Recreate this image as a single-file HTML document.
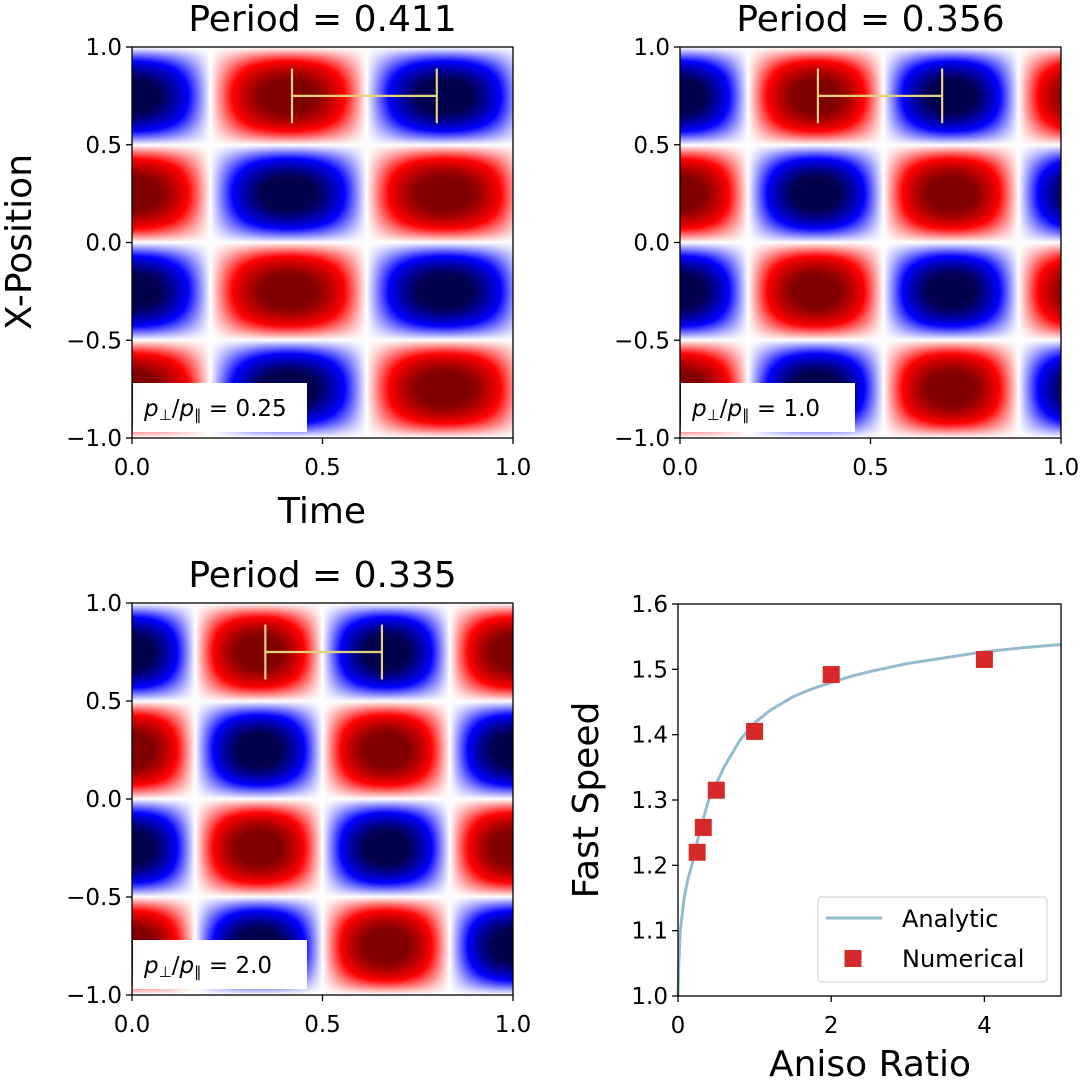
<!DOCTYPE html>
<html><head><meta charset="utf-8">
<style>
body{margin:0;background:#fff;width:1080px;height:1082px;overflow:hidden;position:relative;font-family:"DejaVu Sans","Liberation Sans",sans-serif;}
canvas{position:absolute;}
svg{position:absolute;left:0;top:0;font-family:"DejaVu Sans","Liberation Sans",sans-serif;}
</style></head>
<body>
<canvas id="c0" width="381" height="391" style="left:132px;top:47px"></canvas>
<canvas id="c1" width="381" height="391" style="left:680px;top:47px"></canvas>
<canvas id="c2" width="381" height="392" style="left:132px;top:603px"></canvas>
<svg id="s" width="1080" height="1082"></svg>
<script>
// heatmap panel data
const periods=[0.411,0.356,0.335];
const ratioLabels=['0.25','1.0','2.0'];
const zeroOffsets=[0.205,0.178,0.165];
const barStart=[0.42,0.362,0.35];
const barEnd=[0.80,0.688,0.656];
// scatter/line data
const numX=[0.25,0.33,0.5,1,2,4];
const numY=[1.22,1.258,1.315,1.405,1.492,1.515];
const anaX=[0,0.01,0.03,0.08,0.13,0.18,0.28,0.4,0.5,0.6,0.7,0.8,0.9,1.0,1.2,1.5,1.75,2,2.25,2.56,3,3.5,4,4.5,5];
const anaY=[1.0,1.05,1.1,1.15,1.18,1.2,1.25,1.3,1.325,1.35,1.37,1.39,1.405,1.418,1.437,1.458,1.47,1.48,1.489,1.498,1.509,1.518,1.527,1.533,1.538];
const xTicksH=['0.0','0.5','1.0'];
const yTicksH=['1.0','0.5','0.0','\u22120.5','\u22121.0'];
const xTicksS=[0,2,4];
const yTicksS=['1.0','1.1','1.2','1.3','1.4','1.5','1.6'];

function seismic(v){
  const s=(v+1)/2; let r,g,b;
  const stops=[[0,0,0,0.3],[0.25,0,0,1],[0.5,1,1,1],[0.75,1,0,0],[1,0.5,0,0]];
  for(let i=0;i<4;i++){const a=stops[i],c=stops[i+1];if(s<=c[0]){const f=(s-a[0])/(c[0]-a[0]);r=a[1]+f*(c[1]-a[1]);g=a[2]+f*(c[2]-a[2]);b=a[3]+f*(c[3]-a[3]);break;}}
  return [r*255,g*255,b*255];
}
periods.forEach((P,k)=>{
  const cv=document.getElementById('c'+k),ctx=cv.getContext('2d');
  const W=cv.width,H=cv.height,img=ctx.createImageData(W,H);
  const T=2*P;
  for(let j=0;j<H;j++){const y=1-2*j/(H-1);const sy=Math.sin(2*Math.PI*y);
    for(let i=0;i<W;i++){const t=i/(W-1);
      const ct=Math.cos(2*Math.PI*(t-zeroOffsets[k]+T/4)/T);
      let v=1.15*ct*sy;
      const c=seismic(Math.max(-1,Math.min(1,v)));const o=(j*W+i)*4;
      img.data[o]=c[0];img.data[o+1]=c[1];img.data[o+2]=c[2];img.data[o+3]=255;}}
  ctx.putImageData(img,0,0);
});
const NS='http://www.w3.org/2000/svg',svg=document.getElementById('s');
function el(tag,attrs,txt){const e=document.createElementNS(NS,tag);for(const k in attrs)e.setAttribute(k,attrs[k]);if(txt!==undefined)e.textContent=txt;svg.appendChild(e);return e;}
const panels=[[132,47,381,391],[680,47,381,391],[132,603,381,392]];
panels.forEach((p,k)=>{
  const [L,T,W,H]=p;
  const sx=t=>L+t*W, sy=v=>T+(1-v)/2*H;
  const t=el('text',{x:L+W/2,y:T-16,'font-size':36,'text-anchor':'middle',fill:'#000'},'Period = '+periods[k].toFixed(3));
  
  
  const yb=sy(0.75),c='#e6d27a';
  el('line',{x1:sx(barStart[k]),x2:sx(barEnd[k]),y1:yb,y2:yb,stroke:c,'stroke-width':2.2});
  [barStart[k],barEnd[k]].forEach(v=>el('line',{x1:sx(v),x2:sx(v),y1:sy(0.89),y2:sy(0.61),stroke:c,'stroke-width':2.2}));
  const bx=el('rect',{x:L+1,y:T+H-55,width:174,height:49,fill:'#fff'});
  
  
  const tx=el('text',{x:L+12,y:T+H-22,'font-size':23,fill:'#000'});
  tx.innerHTML='<tspan font-style="italic">p</tspan><tspan font-size="15" dy="4">\u22A5</tspan><tspan dy="-4">/</tspan><tspan font-style="italic">p</tspan><tspan font-size="15" dy="4">\u2225</tspan><tspan dy="-4"> = '+ratioLabels[k]+'</tspan>';
  el('rect',{x:L,y:T,width:W,height:H,fill:'none',stroke:'#000','stroke-width':1.3});
  xTicksH.forEach((s,i)=>{const x=L+i*W/2;el('line',{x1:x,x2:x,y1:T+H,y2:T+H+6,stroke:'#000','stroke-width':1.3});
    el('text',{x:x,y:T+H+37,'font-size':23,'text-anchor':'middle'},s);});
  yTicksH.forEach((s,i)=>{const y=T+i*H/4;el('line',{x1:L-6,x2:L,y1:y,y2:y,stroke:'#000','stroke-width':1.3});
    el('text',{x:L-10,y:y+8,'font-size':23,'text-anchor':'end'},s);});
});
const yl=el('text',{x:0,y:0,'font-size':36,'text-anchor':'middle',transform:'translate(31,242) rotate(-90)'},'X-Position');


const xl=el('text',{x:322,y:523,'font-size':36,'text-anchor':'middle'},'Time');



const L=678,Tp=604,W=383,H=392;
const X=v=>L+v/5*W, Y=v=>Tp+(1.6-v)/0.6*H;
let d='';anaX.forEach((x,i)=>{d+=(i?'L':'M')+X(x).toFixed(1)+','+Y(anaY[i]).toFixed(1);});
const ln=el('path',{d:d,fill:'none',stroke:'#94bccf','stroke-width':3,'stroke-linejoin':'round'});


numX.forEach((x,i)=>{const r=el('rect',{x:X(x)-8.5,y:Y(numY[i])-8.5,width:17,height:17,fill:'#d62a2a'});
  
  });
el('rect',{x:L,y:Tp,width:W,height:H,fill:'none',stroke:'#000','stroke-width':1.3});
xTicksS.forEach(v=>{el('line',{x1:X(v),x2:X(v),y1:Tp+H,y2:Tp+H+6,stroke:'#000','stroke-width':1.3});
  el('text',{x:X(v),y:Tp+H+37,'font-size':23,'text-anchor':'middle'},v);});
yTicksS.forEach((s,i)=>{const y=Tp+H-i*H/6;el('line',{x1:L-6,x2:L,y1:y,y2:y,stroke:'#000','stroke-width':1.3});
  el('text',{x:L-10,y:y+8,'font-size':23,'text-anchor':'end'},s);});
const lg=el('rect',{x:818,y:897,width:229,height:85,rx:4,fill:'#fff',stroke:'#d8d8d8','stroke-width':1.2});


el('line',{x1:826,x2:882,y1:918,y2:918,stroke:'#94bccf','stroke-width':3});
el('text',{x:902,y:927,'font-size':24},'Analytic');
el('rect',{x:844.5,y:950,width:17,height:17,fill:'#d62a2a'});
el('text',{x:902,y:967,'font-size':24},'Numerical');
const sxl=el('text',{x:870,y:1076,'font-size':36,'text-anchor':'middle'},'Aniso Ratio');


const syl=el('text',{x:0,y:0,'font-size':36,'text-anchor':'middle',transform:'translate(598,800) rotate(-90)'},'Fast Speed');


</script>
</body></html>
